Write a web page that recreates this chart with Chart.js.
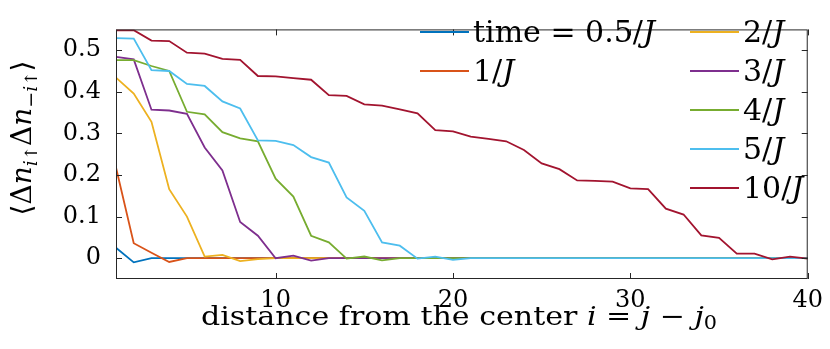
<!DOCTYPE html>
<html>
<head>
<meta charset="utf-8">
<script src="https://cdn.jsdelivr.net/npm/chart.js@4"></script>
<style>
  body { margin: 0; background: #fff; }
  #wrap { width: 830px; height: 349px; }
</style>
</head>
<body>
<div id="wrap"><canvas id="chart" width="830" height="349"></canvas></div>
<script>
const distance = [1, 2, 3, 4, 5, 6, 7, 8, 9, 10, 11, 12, 13, 14, 15, 16, 17, 18, 19, 20,
  21, 22, 23, 24, 25, 26, 27, 28, 29, 30, 31, 32, 33, 34, 35, 36, 37, 38, 39, 40];

const t05 = [0.025, -0.010, 0, 0, 0, 0, 0, 0, 0, 0, 0, 0, 0, 0, 0, 0, 0, 0, 0, 0,
  0, 0, 0, 0, 0, 0, 0, 0, 0, 0, 0, 0, 0, 0, 0, 0, 0, 0, 0, 0];
const t1 = [0.218, 0.036, 0.013, -0.009, 0, 0, 0, 0, 0, 0, 0, 0, 0, 0, 0, 0, 0, 0, 0, 0,
  0, 0, 0, 0, 0, 0, 0, 0, 0, 0, 0, 0, 0, 0, 0, 0, 0, 0, 0, 0];
const t2 = [0.434, 0.396, 0.328, 0.166, 0.100, 0.004, 0.008, -0.007, -0.002, 0, 0, 0, 0, 0, 0, 0, 0, 0, 0, 0,
  0, 0, 0, 0, 0, 0, 0, 0, 0, 0, 0, 0, 0, 0, 0, 0, 0, 0, 0, 0];
const t3 = [0.484, 0.478, 0.357, 0.355, 0.347, 0.266, 0.211, 0.087, 0.054, 0.000, 0.006, -0.006, 0, 0, 0, 0, 0, 0, 0, 0,
  0, 0, 0, 0, 0, 0, 0, 0, 0, 0, 0, 0, 0, 0, 0, 0, 0, 0, 0, 0];
const t4 = [0.476, 0.476, 0.462, 0.450, 0.352, 0.346, 0.303, 0.288, 0.281, 0.191, 0.148, 0.054, 0.038, -0.001, 0.004, -0.005, 0, 0, 0, 0,
  0, 0, 0, 0, 0, 0, 0, 0, 0, 0, 0, 0, 0, 0, 0, 0, 0, 0, 0, 0];
const t5 = [0.529, 0.528, 0.452, 0.450, 0.419, 0.414, 0.377, 0.360, 0.283, 0.282, 0.272, 0.243, 0.230, 0.146, 0.114, 0.038, 0.030, -0.001, 0.004, -0.004,
  0, 0, 0, 0, 0, 0, 0, 0, 0, 0, 0, 0, 0, 0, 0, 0, 0, 0, 0, 0];
const t10 = [0.548, 0.548, 0.523, 0.522, 0.494, 0.492, 0.479, 0.477, 0.438, 0.437, 0.433, 0.429, 0.392, 0.390, 0.370, 0.367, 0.358, 0.348, 0.308, 0.305,
  0.292, 0.287, 0.281, 0.260, 0.228, 0.214, 0.187, 0.186, 0.184, 0.168, 0.166, 0.119, 0.105, 0.055, 0.049, 0.011, 0.011, -0.003, 0.004, -0.001];

const series = [t05, t1, t2, t3, t4, t5, t10];
// legend labels: plain part + italic J
const seriesLabels = ['time = 0.5/', '1/', '2/', '3/', '4/', '5/', '10/'];
const colors = ['#0072BD', '#D95319', '#EDB120', '#7E2F8E', '#77AC30', '#4DBEEE', '#A2142F'];

const xTicks = [10, 20, 30, 40];
const yTicks = [0, 0.1, 0.2, 0.3, 0.4, 0.5];
const yTickLabels = ['0', '0.1', '0.2', '0.3', '0.4', '0.5'];

const SERIF = "'DejaVu Serif', 'Liberation Serif', serif";
const INK = '#262626';

function font(size, italic) {
  return (italic ? 'italic ' : '') + size + 'px ' + SERIF;
}

// text runs; each piece {t, it, size, dy}
function runWidth(ctx, parts) {
  let w = 0;
  parts.forEach(p => { ctx.font = font(p.size, p.it); w += ctx.measureText(p.t).width; });
  return w;
}
function drawRun(ctx, parts, x, y) {
  parts.forEach(p => {
    ctx.font = font(p.size, p.it);
    ctx.fillText(p.t, x, y + (p.dy || 0));
    x += ctx.measureText(p.t).width;
  });
}

const decor = {
  id: 'decor',
  afterDatasetsDraw(chart) {
    const ctx = chart.ctx;
    const a = chart.chartArea;
    const xs = chart.scales.x, ys = chart.scales.y;
    ctx.save();
    ctx.strokeStyle = INK;
    ctx.lineWidth = 1;
    ctx.strokeRect(a.left + 0.5, a.top + 0.5, a.right - a.left - 1, a.bottom - a.top - 1);
    ctx.beginPath();
    xTicks.forEach(v => {
      const px = Math.round(xs.getPixelForValue(v)) + 0.5;
      ctx.moveTo(px, a.bottom); ctx.lineTo(px, a.bottom - 6);
      ctx.moveTo(px, a.top); ctx.lineTo(px, a.top + 6);
    });
    yTicks.forEach(v => {
      const py = Math.round(ys.getPixelForValue(v)) + 0.5;
      ctx.moveTo(a.left, py); ctx.lineTo(a.left + 6, py);
      ctx.moveTo(a.right, py); ctx.lineTo(a.right - 6, py);
    });
    ctx.stroke();

    // legend
    ctx.fillStyle = '#000';
    ctx.textBaseline = 'alphabetic';
    ctx.textAlign = 'left';
    const rowH = 39;
    series.forEach((s, k) => {
      const col = k < 2 ? 0 : 1;
      const row = k < 2 ? k : k - 2;
      const x0 = col === 0 ? 420 : 690;
      const base = 42 + row * rowH;
      ctx.strokeStyle = colors[k];
      ctx.lineWidth = 2;
      ctx.beginPath();
      ctx.moveTo(x0, base - 10); ctx.lineTo(x0 + 49, base - 10);
      ctx.stroke();
      drawRun(ctx, [{t: seriesLabels[k], size: 30}, {t: 'J', it: true, size: 30}], x0 + 53, base);
    });

    // x title, stretched a little to the width of the original
    const xt = [
      {t: 'distance from the center ', size: 26},
      {t: 'i', it: true, size: 26},
      {t: ' = ', size: 26},
      {t: 'j', it: true, size: 26},
      {t: ' \u2212 ', size: 26},
      {t: 'j', it: true, size: 26},
      {t: '0', size: 18, dy: 4}
    ];
    const xw = runWidth(ctx, xt);
    const sx = 516 / xw;
    ctx.save();
    ctx.translate(459 - 258, 325);
    ctx.scale(sx, 1);
    drawRun(ctx, xt, 0, 0);
    ctx.restore();

    // y title
    const yt = [
      {t: '\u27E8\u0394', size: 28},
      {t: 'n', it: true, size: 28},
      {t: 'i', it: true, size: 19, dy: 6},
      {t: '\u2191', size: 17, dy: 6},
      {t: '\u0394', size: 28},
      {t: 'n', it: true, size: 28},
      {t: '\u2212', size: 19, dy: 6},
      {t: 'i', it: true, size: 19, dy: 6},
      {t: '\u2191', size: 17, dy: 6},
      {t: '\u27E9', size: 28}
    ];
    const yw = runWidth(ctx, yt);
    ctx.translate(31, 138);
    ctx.rotate(-Math.PI / 2);
    drawRun(ctx, yt, -yw / 2, 0);
    ctx.restore();
  }
};

const datasets = series.map((s, k) => ({
  label: seriesLabels[k] + 'J',
  data: distance.map((d, i) => ({x: d, y: s[i]})),
  borderColor: colors[k],
  backgroundColor: colors[k],
  borderWidth: 1.8,
  pointRadius: 0,
  tension: 0,
  fill: false,
  order: series.length - k
}));

const ctx = document.getElementById('chart').getContext('2d');
const chart = new Chart(ctx, {
  type: 'line',
  data: { datasets: datasets },
  options: {
    responsive: false,
    animation: false,
    layout: { padding: { top: 2, right: 15, left: 0, bottom: 0 } },
    plugins: { legend: { display: false }, tooltip: { enabled: false } },
    scales: {
      x: {
        type: 'linear',
        min: 1,
        max: 40,
        afterBuildTicks: s => { s.ticks = xTicks.map(v => ({value: v})); },
        afterFit: s => { s.height = 70; },
        grid: { display: false, drawTicks: false },
        border: { display: false },
        ticks: { color: '#000', font: { family: SERIF, size: 24 }, padding: 7, maxRotation: 0 }
      },
      y: {
        min: -0.05,
        max: 0.55,
        afterBuildTicks: s => { s.ticks = yTicks.map(v => ({value: v})); },
        afterFit: s => { s.width = 116; },
        grid: { display: false, drawTicks: false },
        border: { display: false },
        ticks: {
          color: '#000',
          font: { family: SERIF, size: 24 },
          padding: 15,
          callback: (v) => yTickLabels[yTicks.indexOf(Math.round(v * 10) / 10)]
        }
      }
    }
  },
  plugins: [decor]
});
</script>
</body>
</html>
